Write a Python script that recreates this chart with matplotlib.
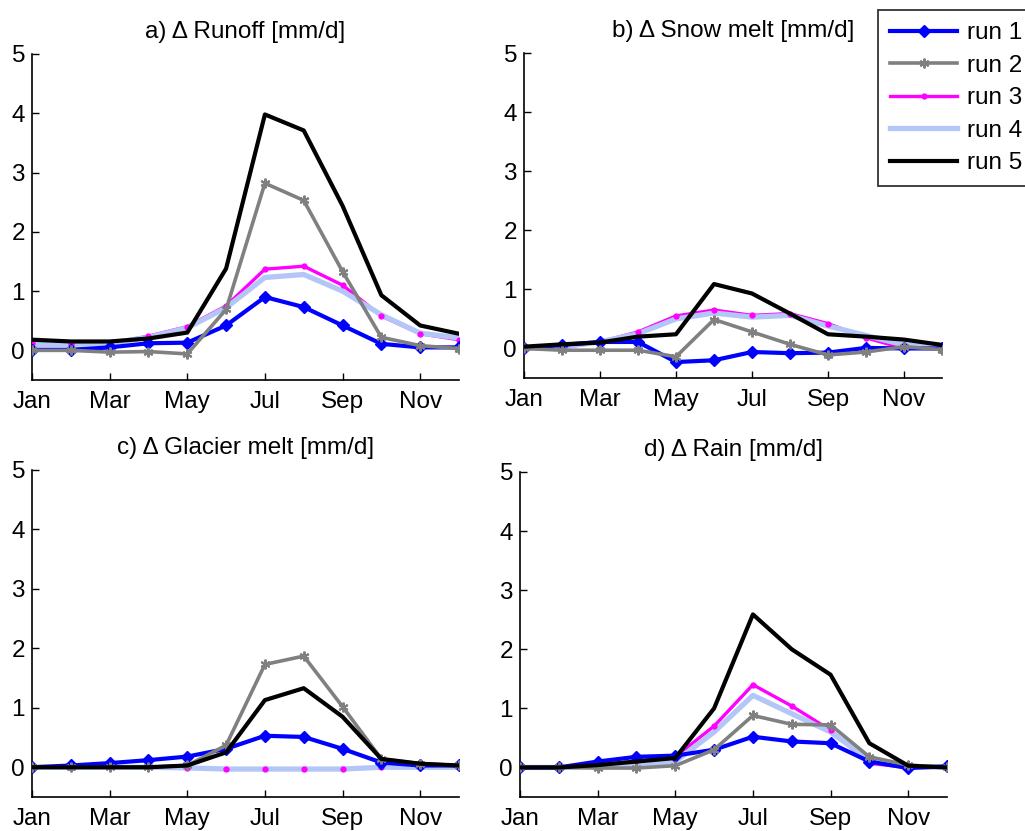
import matplotlib
matplotlib.use("Agg")
import matplotlib.pyplot as plt
from matplotlib.lines import Line2D

plt.rcParams['font.family'] = ['Liberation Sans', 'DejaVu Sans']

months = [1, 2, 3, 4, 5, 6, 7, 8, 9, 10, 11, 12]
tick_pos = [1, 3, 5, 7, 9, 11]
tick_labels = ['Jan', 'Mar', 'May', 'Jul', 'Sep', 'Nov']
run_names = ['run 1', 'run 2', 'run 3', 'run 4', 'run 5']

titles = ['a) \u0394 Runoff [mm/d]', 'b) \u0394 Snow melt [mm/d]',
          'c) \u0394 Glacier melt [mm/d]', 'd) \u0394 Rain [mm/d]']

# a) Runoff
runoff_r1 = [0.01, 0.01, 0.05, 0.12, 0.13, 0.42, 0.90, 0.73, 0.42, 0.11, 0.05, 0.05]
runoff_r2 = [0.00, 0.00, -0.03, -0.02, -0.06, 0.69, 2.82, 2.53, 1.33, 0.22, 0.08, 0.03]
runoff_r3 = [0.12, 0.11, 0.12, 0.24, 0.40, 0.75, 1.37, 1.42, 1.10, 0.58, 0.28, 0.18]
runoff_r4 = [0.10, 0.10, 0.12, 0.22, 0.38, 0.72, 1.23, 1.28, 1.00, 0.60, 0.29, 0.21]
runoff_r5 = [0.18, 0.15, 0.15, 0.20, 0.30, 1.38, 3.98, 3.71, 2.44, 0.93, 0.42, 0.28]

# b) Snow melt
snow_r1 = [0.00, 0.06, 0.11, 0.11, -0.23, -0.20, -0.06, -0.08, -0.07, 0.01, 0.00, 0.00]
snow_r2 = [0.00, -0.03, -0.03, -0.03, -0.14, 0.49, 0.28, 0.07, -0.11, -0.06, 0.03, -0.02]
snow_r3 = [0.00, 0.01, 0.11, 0.28, 0.55, 0.65, 0.56, 0.59, 0.42, 0.18, 0.00, 0.03]
snow_r4 = [0.00, 0.03, 0.11, 0.25, 0.50, 0.60, 0.53, 0.56, 0.38, 0.22, 0.06, 0.03]
snow_r5 = [0.03, 0.07, 0.10, 0.20, 0.24, 1.09, 0.93, 0.59, 0.24, 0.20, 0.15, 0.06]

# c) Glacier melt
glac_r1 = [0.00, 0.03, 0.07, 0.12, 0.18, 0.31, 0.53, 0.51, 0.31, 0.08, 0.03, 0.03]
glac_r2 = [0.00, 0.00, 0.00, 0.00, 0.03, 0.37, 1.73, 1.87, 1.02, 0.14, 0.06, 0.03]
glac_r3 = [0.00, 0.00, 0.00, 0.00, -0.01, -0.03, -0.03, -0.03, -0.03, 0.00, 0.00, 0.00]
glac_r4 = [0.00, 0.00, 0.00, 0.00, -0.01, -0.03, -0.03, -0.03, -0.03, 0.00, 0.00, 0.00]
glac_r5 = [0.00, 0.00, 0.00, 0.00, 0.03, 0.25, 1.13, 1.33, 0.85, 0.14, 0.06, 0.03]

# d) Rain
rain_r1 = [0.00, 0.00, 0.10, 0.18, 0.20, 0.30, 0.52, 0.44, 0.41, 0.10, -0.01, 0.02]
rain_r2 = [0.00, 0.00, -0.01, -0.01, 0.03, 0.30, 0.88, 0.73, 0.72, 0.18, 0.04, 0.00]
rain_r3 = [0.00, 0.00, 0.04, 0.11, 0.18, 0.70, 1.40, 1.04, 0.63, 0.07, 0.00, 0.00]
rain_r4 = [0.00, 0.00, 0.02, 0.04, 0.10, 0.60, 1.22, 0.91, 0.60, 0.13, 0.02, 0.00]
rain_r5 = [0.00, 0.00, 0.04, 0.10, 0.16, 1.00, 2.59, 2.00, 1.57, 0.41, 0.03, 0.00]

panels = [
    [runoff_r1, runoff_r2, runoff_r3, runoff_r4, runoff_r5],
    [snow_r1, snow_r2, snow_r3, snow_r4, snow_r5],
    [glac_r1, glac_r2, glac_r3, glac_r4, glac_r5],
    [rain_r1, rain_r2, rain_r3, rain_r4, rain_r5],
]

colors = ['#0000ff', '#808080', '#ff00ff', '#b3c6f7', '#000000']
lws = [3.0, 2.6, 2.4, 3.8, 3.0]

W, H = 1025, 831
fig = plt.figure(figsize=(W / 100, H / 100), dpi=100)

boxes_px = [(32, 54, 459, 380), (524, 53, 942, 378),
            (32, 470, 459, 797), (520, 472, 947, 797)]

FS = 17.5
for (l, t, r, b), title, series in zip(boxes_px, titles, panels):
    ax = fig.add_axes([l / W, 1 - b / H, (r - l) / W, (b - t) / H])
    r1, r2, r3, r4, r5 = series
    ax.plot(months, r3, color=colors[2], lw=lws[2], zorder=2)
    ax.plot(months, r4, color=colors[3], lw=lws[3], zorder=3)
    ax.plot(months, r3, color=colors[2], lw=0, marker='.', ms=7, zorder=4)
    ax.plot(months, r1, color=colors[0], lw=lws[0], marker='D', ms=6, zorder=5)
    ax.plot(months, r2, color=colors[1], lw=lws[1], marker=(6, 2, 0), ms=7,
            mew=1.5, zorder=6)
    ax.plot(months, r5, color=colors[4], lw=lws[4], zorder=7)
    ax.set_xlim(1, 12)
    ax.set_ylim(-0.5, 5)
    ax.set_xticks(tick_pos)
    ax.set_xticklabels(tick_labels)
    ax.set_yticks([0, 1, 2, 3, 4, 5])
    ax.spines['top'].set_visible(False)
    ax.spines['right'].set_visible(False)
    for s in ('left', 'bottom'):
        ax.spines[s].set_linewidth(1.2)
    ax.tick_params(direction='in', length=5, width=1.0, labelsize=FS)
    ax.tick_params(axis='x', pad=8)
    ax.tick_params(axis='y', pad=5)
    ax.set_title(title, fontsize=FS, pad=11.5)

handles = [
    Line2D([], [], color=colors[0], lw=lws[0], marker='D', ms=6),
    Line2D([], [], color=colors[1], lw=lws[1], marker=(6, 2, 0), ms=7, mew=1.5),
    Line2D([], [], color=colors[2], lw=lws[2], marker='.', ms=7),
    Line2D([], [], color=colors[3], lw=lws[3]),
    Line2D([], [], color=colors[4], lw=lws[4]),
]
leg = fig.legend(handles, run_names, loc='upper left',
                 bbox_to_anchor=(878 / W, 1 - 10 / H), fontsize=FS,
                 frameon=True, fancybox=False, handlelength=2.75,
                 handletextpad=0.4, labelspacing=0.43, borderpad=0.5,
                 borderaxespad=0)
leg.get_frame().set_edgecolor('black')
leg.get_frame().set_linewidth(1.3)

fig.savefig('out.png', dpi=100)
